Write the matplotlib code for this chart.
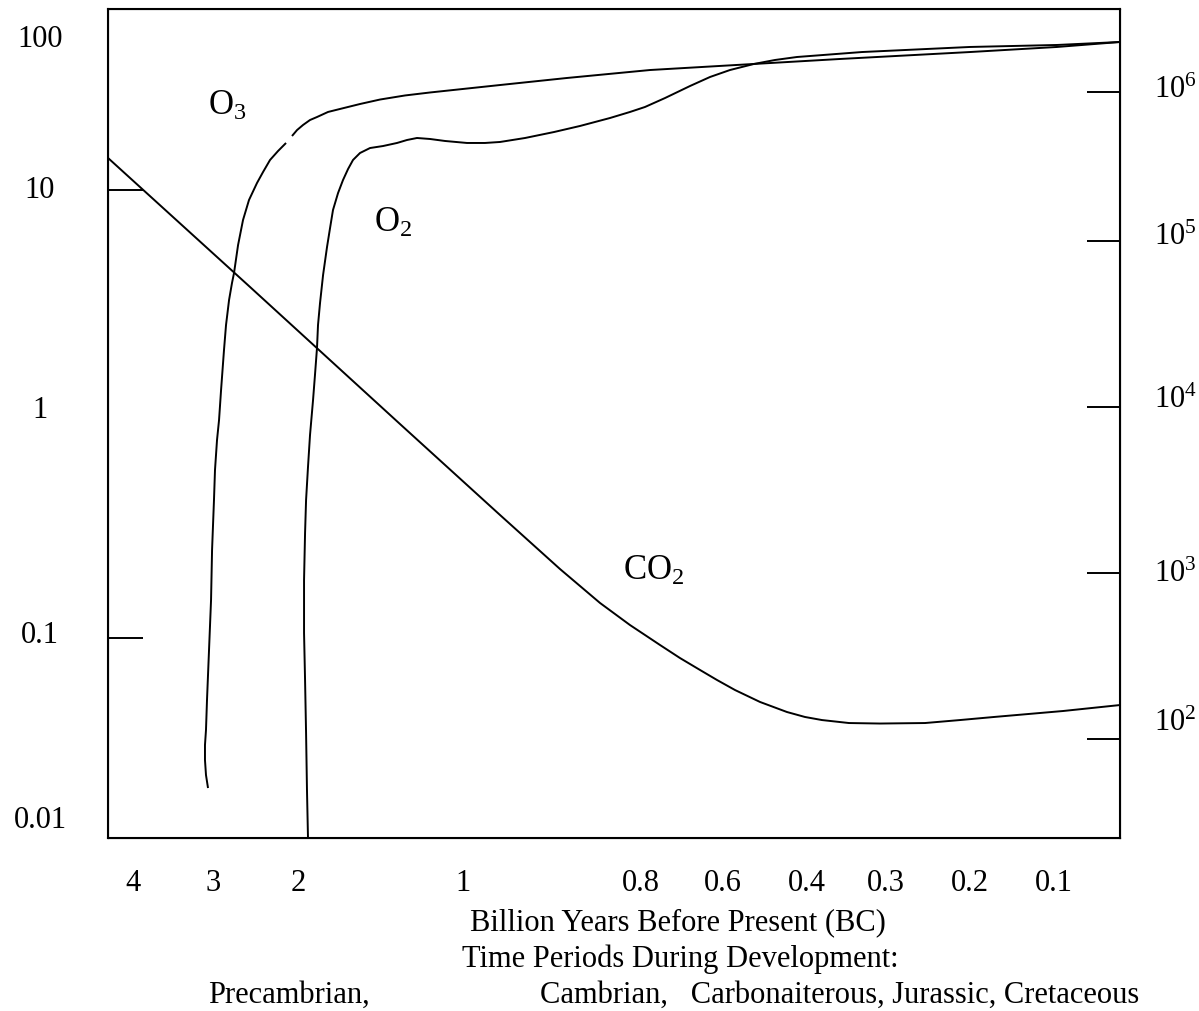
import numpy as np
import matplotlib
matplotlib.use("Agg")
import matplotlib.pyplot as plt
from matplotlib.transforms import blended_transform_factory

plt.rcParams['font.family'] = ['Liberation Serif', 'DejaVu Serif']
plt.rcParams['mathtext.fontset'] = 'custom'
plt.rcParams['mathtext.rm'] = 'Liberation Serif'

# chart units: x and y are both 0..100 across the drawn box
co2_x = [0.0, 14.03, 28.85, 38.74, 44.66, 46.64, 48.62, 50.10, 51.58, 53.06, 54.55, 56.52, 58.50,
         60.18, 61.96, 64.43, 67.09, 68.87, 70.55, 73.22, 76.28, 80.73, 84.19, 87.55, 94.37, 100.0]
co2_y = [82.03, 66.47, 49.94, 38.96, 32.45, 30.40, 28.35, 27.02, 25.69, 24.49, 23.28, 21.71, 20.27,
         19.06, 17.85, 16.41, 15.20, 14.60, 14.23, 13.87, 13.81, 13.87, 14.23, 14.60, 15.32, 16.04]

# small break in the O3 trace as drawn in the original
o3_x = [9.88, 9.68, 9.58, 9.58, 9.68, 9.78, 9.98, 10.18, 10.28, 10.47, 10.57, 10.77, 10.97, 11.17,
        11.46, 11.66, 11.96, 12.25, 12.45, 12.85, 13.34, 13.93, 14.72, 15.32, 16.01, 16.80, 17.59,
        np.nan,
        18.18, 18.68, 19.27, 19.96, 20.65, 21.74, 22.92, 24.90, 26.88, 29.35, 31.82, 38.74, 45.36,
        53.56, 63.83, 72.33, 85.18, 93.77, 100.0]
o3_y = [6.03, 7.60, 9.41, 11.22, 13.03, 16.65, 22.68, 28.71, 34.74, 40.77, 44.39, 48.01, 50.42, 54.04,
        58.87, 61.88, 64.90, 66.95, 68.15, 71.53, 74.55, 76.96, 79.01, 80.34, 81.79, 82.87, 83.84,
        np.nan,
        84.68, 85.40, 86.01, 86.61, 86.97, 87.58, 87.94, 88.54, 89.08, 89.57, 89.93, 90.83, 91.68,
        92.64, 93.37, 93.97, 94.81, 95.42, 96.02]

o2_x = [19.76, 19.66, 19.57, 19.47, 19.37, 19.37, 19.47, 19.57, 19.76, 19.96, 20.26, 20.45, 20.65,
        20.75, 20.95, 21.25, 21.64, 21.94, 22.23, 22.73, 23.22, 23.72, 24.21, 24.90, 25.89, 27.17,
        28.56, 29.55, 30.53, 31.82, 33.30, 35.47, 37.25, 38.74, 41.21, 44.07, 46.64, 49.60, 51.58,
        53.06, 55.04, 57.51, 59.49, 61.46, 63.83, 65.91, 68.08, 74.51, 85.18, 93.77, 100.0]
o2_y = [0.0, 5.79, 12.67, 19.06, 24.73, 31.12, 36.79, 40.77, 44.75, 48.61, 52.84, 55.85, 59.11,
        61.88, 64.54, 67.91, 71.29, 73.58, 75.75, 77.80, 79.37, 80.70, 81.79, 82.63, 83.23, 83.47,
        83.84, 84.20, 84.44, 84.32, 84.08, 83.84, 83.84, 83.96, 84.44, 85.16, 85.89, 86.85, 87.58,
        88.18, 89.26, 90.71, 91.80, 92.64, 93.37, 93.85, 94.21, 94.81, 95.42, 95.66, 96.02]

age_labels = ['4', '3', '2', '1', '0.8', '0.6', '0.4', '0.3', '0.2', '0.1']
age_pos = [2.5, 10.4, 18.8, 35.1, 52.7, 60.8, 69.1, 76.9, 85.2, 93.5]

left_labels = ['100', '10', '1', '0.1', '0.01']
left_label_pos = [96.7, 78.5, 52.0, 24.8, 2.5]
left_tick_pos = [78.2, 52.0, 24.1]

right_labels = [r'$\mathregular{10^6}$', r'$\mathregular{10^5}$', r'$\mathregular{10^4}$',
                r'$\mathregular{10^3}$', r'$\mathregular{10^2}$']
right_label_pos = [89.3, 71.5, 51.9, 30.9, 12.9]
right_tick_pos = [90.0, 72.0, 52.0, 32.0, 11.9]

gases = [r'$\mathregular{O_3}$', r'$\mathregular{O_2}$', r'$\mathregular{CO_2}$']
gas_pos = [(9.9, 87.2), (26.3, 73.1), (50.9, 31.1)]

fig = plt.figure(figsize=(11.99, 10.11), dpi=100)
ax = fig.add_axes([0.0901, 0.1711, 0.8440, 0.8200])
style = dict(color='black', lw=1.4, solid_joinstyle='round', solid_capstyle='butt')
ax.plot(co2_x, co2_y, **style)
ax.plot(o3_x, o3_y, **style)
ax.plot(o2_x, o2_y, **style)
ax.set_xlim(0, 100)
ax.set_ylim(0, 100)
for s in ax.spines.values():
    s.set_linewidth(1.5)

fs = 22
ax.set_xticks(age_pos)
ax.set_xticklabels(age_labels, fontsize=fs)
ax.tick_params(axis='x', length=0, pad=22)

ax.set_yticks(left_label_pos)
ax.set_yticklabels(left_labels, fontsize=fs)
ax.set_yticks(left_tick_pos, minor=True)
ax.tick_params(axis='y', which='major', length=0, pad=49)
ax.tick_params(axis='y', which='minor', direction='in', length=25, width=1.4)
for lab in ax.get_yticklabels():
    lab.set_ha('center')

ax2 = ax.twinx()
ax2.set_ylim(0, 100)
ax2.set_yticks(right_tick_pos)
ax2.set_yticklabels([])
ax2.tick_params(axis='y', direction='in', length=24, width=1.4)
tr = blended_transform_factory(ax.transAxes, ax.transData)
for lab, y in zip(right_labels, right_label_pos):
    ax.text(1.034, y, lab, transform=tr, fontsize=fs, ha='left', va='baseline')

for lab, (x, y) in zip(gases, gas_pos):
    ax.text(x, y, lab, fontsize=25, ha='left', va='baseline')

fig.text(0.5655, 0.0801, 'Billion Years Before Present (BC)', fontsize=fs, ha='center', va='baseline')
fig.text(0.567, 0.0435, 'Time Periods During Development:', fontsize=fs, ha='center', va='baseline')
fig.text(0.1735, 0.0079, 'Precambrian,', fontsize=fs, ha='left', va='baseline')
fig.text(0.450, 0.0079, 'Cambrian,   Carbonaiterous, Jurassic, Cretaceous', fontsize=fs, ha='left', va='baseline')

fig.savefig('out.png', dpi=100)
